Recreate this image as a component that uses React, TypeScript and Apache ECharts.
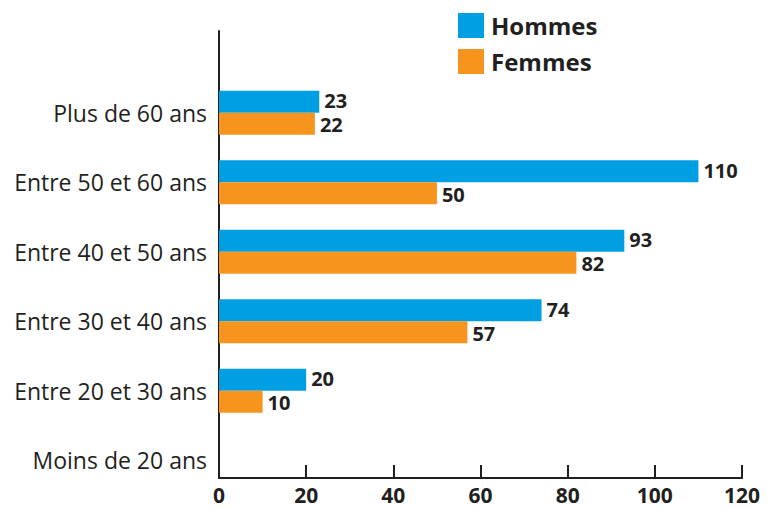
import React, { useEffect, useRef } from "react";
import * as echarts from "echarts";

const categories = [
  "Moins de 20 ans",
  "Entre 20 et 30 ans",
  "Entre 30 et 40 ans",
  "Entre 40 et 50 ans",
  "Entre 50 et 60 ans",
  "Plus de 60 ans",
];
const hommes = [null, 20, 74, 93, 110, 23];
const femmes = [null, 10, 57, 82, 50, 22];
const xTicks = [0, 20, 40, 60, 80, 100, 120];

const BLUE = "#009FE3";
const ORANGE = "#F7941D";
const TEXT = "#231F20";
const FONT = "'Open Sans', 'Noto Sans', sans-serif";

export default function App() {
  const ref = useRef<HTMLDivElement>(null);
  useEffect(() => {
    document.body.style.margin = "0";
    if (!ref.current) return;
    const chart = echarts.init(ref.current, null, { renderer: "svg" });
    const labelStyle = {
      show: true,
      position: "right" as const,
      distance: 5,
      color: TEXT,
      fontWeight: "bold" as const,
      fontSize: 20,
      lineHeight: 20,
      fontFamily: FONT,
    };
    chart.setOption({
      animation: false,
      backgroundColor: "#fff",
      legend: {
        orient: "vertical",
        left: 458,
        top: 13,
        padding: 0,
        itemWidth: 26,
        itemHeight: 25,
        itemGap: 11,
        icon: "rect",
        textStyle: { color: TEXT, fontSize: 24, fontWeight: "bold", fontFamily: FONT, padding: [0, 0, 2, 2] },
        data: ["Hommes", "Femmes"],
      },
      grid: [
        { left: 219, right: 25, top: 78, bottom: 14, containLabel: false },
        { left: 219, right: 25, top: 31, bottom: 31, containLabel: false },
      ],
      xAxis: [
        { gridIndex: 0, type: "value", min: 0, max: 120, interval: 20, show: false },
        {
          gridIndex: 1,
          type: "value",
          min: xTicks[0],
          max: xTicks[xTicks.length - 1],
          interval: 20,
          axisLine: { show: true, lineStyle: { color: TEXT, width: 2 } },
          axisTick: { show: true, inside: true, length: 13, lineStyle: { color: TEXT, width: 2 } },
          axisLabel: { color: TEXT, fontSize: 21, lineHeight: 21, fontWeight: "bold", fontFamily: FONT, margin: 6 },
          splitLine: { show: false },
        },
      ],
      yAxis: [
        {
          gridIndex: 0,
          type: "category",
          data: categories,
          axisLine: { show: false },
          axisTick: { show: false },
          axisLabel: { color: TEXT, fontSize: 23, fontFamily: FONT, margin: 12 },
        },
        {
          gridIndex: 1,
          type: "value",
          min: 0,
          max: 1,
          axisLine: { show: true, lineStyle: { color: TEXT, width: 2 } },
          axisTick: { show: false },
          axisLabel: { show: false },
          splitLine: { show: false },
        },
      ],
      series: [
        {
          name: "Hommes",
          type: "bar",
          xAxisIndex: 0,
          yAxisIndex: 0,
          data: hommes,
          barWidth: 22,
          barGap: "0%",
          itemStyle: { color: BLUE },
          label: { ...labelStyle, offset: [0, -1] },
        },
        {
          name: "Femmes",
          type: "bar",
          xAxisIndex: 0,
          yAxisIndex: 0,
          data: femmes,
          barWidth: 22,
          barGap: "0%",
          itemStyle: { color: ORANGE },
          label: { ...labelStyle, offset: [0, 1] },
        },
      ],
    });
    return () => chart.dispose();
  }, []);
  return <div ref={ref} style={{ width: 767, height: 509 }} />;
}
